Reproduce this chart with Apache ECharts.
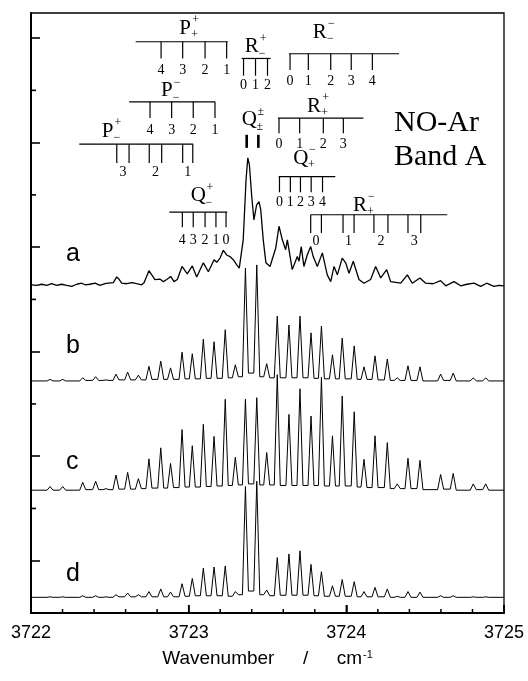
<!DOCTYPE html>
<html>
<head>
<meta charset="utf-8">
<script src="https://cdn.jsdelivr.net/npm/echarts@6/dist/echarts.min.js"></script>
<style>
  html, body { margin: 0; padding: 0; background: #fff; }
  #chart { width: 528px; height: 681px; }
</style>
</head>
<body>
<div id="chart"></div>
<script>
// ---------------------------------------------------------------
// NO-Ar, band A: measured spectrum (a) and three simulations (b-d)
// ---------------------------------------------------------------

// Measured trace a: [wavenumber / cm-1, signal above its baseline]
const EXP_A = [
  [3722.004, 0.01], [3722.036, 0.00], [3722.068, 0.02], [3722.100, 0.00], [3722.131, 0.03],
  [3722.163, 0.00], [3722.195, 0.02], [3722.226, 0.00], [3722.258, -0.02], [3722.290, 0.02],
  [3722.322, 0.04], [3722.342, 0.01], [3722.374, 0.02], [3722.406, 0.04], [3722.438, 0.00],
  [3722.469, 0.03], [3722.490, 0.04], [3722.522, 0.05], [3722.544, 0.16], [3722.560, 0.11],
  [3722.575, 0.04], [3722.607, 0.03], [3722.639, 0.05], [3722.670, 0.03], [3722.702, 0.01],
  [3722.717, 0.05], [3722.748, 0.28], [3722.766, 0.20], [3722.786, 0.11], [3722.818, 0.12],
  [3722.839, 0.07], [3722.861, 0.11], [3722.886, 0.17], [3722.907, 0.07], [3722.928, 0.11],
  [3722.958, 0.36], [3722.991, 0.22], [3723.023, 0.37], [3723.051, 0.16], [3723.093, 0.43],
  [3723.125, 0.26], [3723.161, 0.49], [3723.178, 0.44], [3723.199, 0.52], [3723.220, 0.67],
  [3723.241, 0.58], [3723.262, 0.55], [3723.283, 0.49], [3723.305, 0.39], [3723.321, 0.33],
  [3723.346, 0.87], [3723.364, 2.02], [3723.375, 2.44], [3723.385, 2.31], [3723.400, 1.70],
  [3723.414, 1.25], [3723.431, 1.54], [3723.446, 1.60], [3723.457, 1.45], [3723.473, 0.87],
  [3723.490, 0.43], [3723.516, 0.36], [3723.552, 0.71], [3723.573, 1.13], [3723.594, 0.87],
  [3723.615, 0.68], [3723.626, 0.87], [3723.657, 0.30], [3723.689, 0.55], [3723.700, 0.46],
  [3723.714, 0.74], [3723.731, 0.36], [3723.752, 0.58], [3723.774, 0.74], [3723.790, 0.55],
  [3723.816, 0.36], [3723.848, 0.62], [3723.879, 0.20], [3723.901, 0.07], [3723.922, 0.36],
  [3723.943, 0.20], [3723.974, 0.52], [3723.996, 0.43], [3724.017, 0.23], [3724.044, 0.46],
  [3724.080, 0.11], [3724.112, 0.04], [3724.154, 0.11], [3724.186, 0.36], [3724.218, 0.14],
  [3724.256, 0.30], [3724.281, 0.07], [3724.345, 0.04], [3724.387, 0.20], [3724.418, 0.04],
  [3724.467, 0.14], [3724.503, 0.04], [3724.550, 0.03], [3724.598, 0.09], [3724.630, -0.01],
  [3724.683, 0.07], [3724.725, -0.01], [3724.765, 0.02], [3724.810, 0.04], [3724.852, -0.02],
  [3724.890, 0.04], [3724.936, -0.02], [3724.968, 0.00], [3725.000, -0.01]
];

// Simulated traces: line centres (cm-1), peak heights above baseline,
// and the floor level before / between / after the lines (39 values)
const SIM_LINES = [
  3722.121, 3722.201, 3722.328, 3722.410, 3722.476, 3722.539, 3722.613, 3722.681, 3722.748, 3722.823,
  3722.885, 3722.958, 3723.023, 3723.093, 3723.161, 3723.232, 3723.296, 3723.360, 3723.432, 3723.495,
  3723.562, 3723.636, 3723.706, 3723.776, 3723.842, 3723.912, 3723.974, 3724.050, 3724.112, 3724.182,
  3724.260, 3724.323, 3724.391, 3724.467, 3724.598, 3724.678, 3724.805, 3724.884
];
const SIM_B_PEAK = [
  0.03, 0.03, 0.06, 0.08, 0.02, 0.13, 0.17, 0.11, 0.28, 0.38,
  0.25, 0.55, 0.52, 0.80, 0.75, 0.98, 0.31, 2.16, 2.22, 0.33,
  1.24, 1.07, 1.24, 0.92, 1.05, 0.50, 0.82, 0.67, 0.27, 0.48,
  0.42, 0.06, 0.29, 0.27, 0.13, 0.15, 0.06, 0.06
];
const SIM_B_FLOOR = [
  0, 0, 0, 0.01, 0.01, 0.01, 0.02, 0.02, 0.02, 0.03,
  0.03, 0.03, 0.04, 0.04, 0.05, 0.05, 0.06, 0.08, 0.15, 0.08,
  0.06, 0.06, 0.06, 0.06, 0.05, 0.04, 0.04, 0.04, 0.03, 0.03,
  0.02, 0.01, 0.01, 0.01, 0, 0.01, 0, 0, 0
];
const SIM_C_PEAK = [
  0.07, 0.07, 0.15, 0.17, 0.03, 0.29, 0.34, 0.22, 0.60, 0.81,
  0.51, 1.16, 0.85, 1.26, 1.03, 1.74, 0.63, 1.74, 1.77, 0.72,
  2.21, 1.45, 1.94, 1.42, 2.16, 1.04, 1.80, 1.50, 0.59, 1.04,
  0.91, 0.12, 0.61, 0.57, 0.30, 0.32, 0.12, 0.12
];
const SIM_C_FLOOR = [
  0, 0, 0, 0.01, 0.01, 0.01, 0.02, 0.02, 0.03, 0.04,
  0.04, 0.05, 0.06, 0.06, 0.07, 0.08, 0.09, 0.10, 0.12, 0.10,
  0.10, 0.09, 0.09, 0.09, 0.09, 0.08, 0.08, 0.08, 0.06, 0.05,
  0.05, 0.03, 0.03, 0.03, 0.01, 0.02, 0, 0.01, 0
];
const SIM_D_PEAK = [
  0.01, 0.01, 0.03, 0.03, 0.01, 0.05, 0.08, 0.05, 0.11, 0.16,
  0.10, 0.26, 0.36, 0.56, 0.58, 0.60, 0.11, 2.12, 2.22, 0.14,
  0.76, 0.83, 0.89, 0.63, 0.49, 0.22, 0.34, 0.30, 0.11, 0.19,
  0.16, 0.02, 0.11, 0.10, 0.03, 0.03, 0.01, 0.01
];
const SIM_D_FLOOR = [
  0, 0, 0, 0, 0, 0, 0.01, 0.01, 0.01, 0.01,
  0.01, 0.01, 0.02, 0.03, 0.03, 0.03, 0.02, 0.05, 0.12, 0.05,
  0.03, 0.04, 0.04, 0.04, 0.03, 0.02, 0.02, 0.02, 0.01, 0.01,
  0.01, 0, 0, 0, 0, 0, 0, 0, 0
];
const SIM_LINE_HALF_WIDTH = 0.019;   // cm-1, half base width of a simulated line

// Rotational assignments: line positions (cm-1) and their J labels
const P_PP_LINES = [3722.825, 3722.962, 3723.104, 3723.241];
const P_PP_J = ['4', '3', '2', '1'];
const P_MM_LINES = [3722.755, 3722.892, 3723.029, 3723.167];
const P_MM_J = ['4', '3', '2', '1'];
const P_PM_LINES = [[3722.544, 3722.622], [3722.750, 3722.829], [3722.962, 3723.026]];
const P_PM_J = ['3', '2', '1'];
const Q_PM_LINES = [3722.960, 3723.029, 3723.104, 3723.173, 3723.237];
const Q_PM_J = ['4', '3', '2', '1', '0'];
const R_PM_LINES = [3723.348, 3723.424, 3723.500];
const R_PM_J = ['0', '1', '2'];
const R_MM_LINES = [3723.643, 3723.759, 3723.901, 3724.031, 3724.165];
const R_MM_J = ['0', '1', '2', '3', '4'];
const R_PP_LINES = [3723.573, 3723.704, 3723.854, 3723.981];
const R_PP_J = ['0', '1', '2', '3'];
const Q_MP_LINES = [3723.576, 3723.645, 3723.709, 3723.777, 3723.849];
const Q_MP_J = ['0', '1', '2', '3', '4'];
const R_MP_LINES = [[3723.774, 3723.842], [3723.979, 3724.049], [3724.175, 3724.264], [3724.391, 3724.472]];
const R_MP_J = ['0', '1', '2', '3'];
const Q_HEAD_LINES = [3723.368, 3723.442];

const TRACE_NAMES = ['a', 'b', 'c', 'd'];

// Axis tick positions
const X_MIN = 3722;
const X_MAX = 3725;
const X_MAJOR_TICKS = [3722, 3723, 3724, 3725];
const X_MINOR_TICKS = [3722.2, 3722.4, 3722.6, 3722.8, 3723.2, 3723.4, 3723.6, 3723.8,
                       3724.2, 3724.4, 3724.6, 3724.8];
const Y_LONG_TICKS = [1, 3, 5, 7, 9, 11];
const Y_SHORT_TICKS = [2, 4, 6, 8, 10];

// ---------------- layout ----------------
const Y_MAX = 11.48;                       // plot height in intensity units
const BASELINE = { a: 6.27, b: 4.44, c: 2.35, d: 0.30 };  // vertical stacking offsets
const TRACE_LABEL_POS = [[3722.222, 6.87], [3722.222, 5.11], [3722.222, 2.88], [3722.222, 0.75]];

// each ladder: symbol position, bar [from, to, y], tick end y, J-label y
const LADDERS = [
  { lines: P_PP_LINES, j: P_PP_J, name: 'P', sup: '+', sub: '+', at: [3722.977, 11.19], bar: [3722.664, 3723.248, 10.93], tickTo: 10.61, jY: 10.39 },
  { lines: P_MM_LINES, j: P_MM_J, name: 'P', sup: '\u2212', sub: '\u2212', at: [3722.861, 9.99], bar: [3722.623, 3723.167, 9.78], tickTo: 9.47, jY: 9.24 },
  { lines: P_PM_LINES, j: P_PM_J, name: 'P', sup: '+', sub: '\u2212', at: [3722.485, 9.22], bar: [3722.306, 3723.029, 8.97], tickTo: 8.61, jY: 8.44 },
  { lines: Q_PM_LINES, j: Q_PM_J, name: 'Q', sup: '+', sub: '\u2212', at: [3723.061, 7.99], bar: [3722.877, 3723.245, 7.67], tickTo: 7.38, jY: 7.14 },
  { lines: R_PM_LINES, j: R_PM_J, name: 'R', sup: '+', sub: '\u2212', at: [3723.400, 10.83], bar: [3723.336, 3723.520, 10.61], tickTo: 10.28, jY: 10.10 },
  { lines: R_MM_LINES, j: R_MM_J, name: 'R', sup: '\u2212', sub: '\u2212', at: [3723.832, 11.11], bar: [3723.636, 3724.334, 10.70], tickTo: 10.39, jY: 10.17 },
  { lines: R_PP_LINES, j: R_PP_J, name: 'R', sup: '+', sub: '+', at: [3723.795, 9.70], bar: [3723.567, 3724.108, 9.47], tickTo: 9.18, jY: 8.96 },
  { lines: Q_MP_LINES, j: Q_MP_J, name: 'Q', sup: '\u2212', sub: '+', at: [3723.712, 8.70], bar: [3723.571, 3723.930, 8.35], tickTo: 8.05, jY: 7.85 },
  { lines: R_MP_LINES, j: R_MP_J, name: 'R', sup: '\u2212', sub: '+', at: [3724.086, 7.80], bar: [3723.774, 3724.640, 7.62], tickTo: 7.27, jY: 7.12 },
  { lines: Q_HEAD_LINES, j: null, name: 'Q', sup: '\u00b1', sub: '\u00b1', at: [3723.384, 9.44], bar: null, tickFrom: 9.15, tickTo: 8.90 }
];

const SERIF = '"Liberation Serif", "Times New Roman", serif';
const SANS = '"Liberation Sans", Arial, sans-serif';

// Each simulated line is drawn as a narrow spike standing on the local floor
function simTrace(peaks, floors, base) {
  const pts = [[X_MIN, base + floors[0]]];
  SIM_LINES.forEach((x, i) => {
    pts.push([x - SIM_LINE_HALF_WIDTH, base + floors[i]]);
    pts.push([x, base + peaks[i]]);
    pts.push([x + SIM_LINE_HALF_WIDTH, base + floors[i + 1]]);
  });
  pts.push([X_MAX, base + floors[floors.length - 1]]);
  return pts;
}

function traceSeries(name, data, width) {
  return {
    name: name, type: 'line', data: data, showSymbol: false, symbol: 'none',
    lineStyle: { color: '#000', width: width }, silent: true, z: 2
  };
}

function seg(p, q, w) {
  return { type: 'line', shape: { x1: p[0], y1: p[1], x2: q[0], y2: q[1] },
           style: { stroke: '#000', lineWidth: w, fill: null } };
}
function txt(s, p, size, family, align) {
  return { type: 'text', style: { text: s, x: p[0], y: p[1], fill: '#000',
           font: size + 'px ' + family, align: align || 'center', verticalAlign: 'middle' } };
}

function drawLadder(L, api) {
  const c = (x, y) => api.coord([x, y]);
  const kids = [];
  if (L.bar) {
    kids.push(seg(c(L.bar[0], L.bar[2]), c(L.bar[1], L.bar[2]), 1.2));
    L.lines.forEach((grp, i) => {
      const xs = Array.isArray(grp) ? grp : [grp];
      xs.forEach(x => kids.push(seg(c(x, L.bar[2]), c(x, L.tickTo), 1.2)));
      const mid = xs.reduce((s, v) => s + v, 0) / xs.length;
      kids.push(txt(L.j[i], c(mid, L.jY), 14, SERIF));
    });
  } else {
    L.lines.forEach(x => kids.push(seg(c(x, L.tickFrom), c(x, L.tickTo), 2.6)));
  }
  const p = c(L.at[0], L.at[1]);
  const half = L.name === 'P' ? 6.5 : 7.5;
  kids.push(txt(L.name, p, 21, SERIF));
  kids.push(txt(L.sup, [p[0] + half + 4, p[1] - 8], 12, SERIF));
  kids.push(txt(L.sub, [p[0] + half + 3, p[1] + 7], 12, SERIF));
  return { type: 'group', children: kids };
}

function drawTraceName(i, api) {
  return txt(TRACE_NAMES[i], api.coord(TRACE_LABEL_POS[i]), 25, SANS, 'left');
}

// Bottom axis line with inward major and minor ticks, plus the short left ticks
function drawAxisTicks(api) {
  const kids = [seg(api.coord([X_MIN, 0]), api.coord([X_MAX, 0]), 2)];
  X_MAJOR_TICKS.forEach(x => {
    const p = api.coord([x, 0]);
    kids.push(seg(p, [p[0], p[1] - 8], 1.5));
  });
  X_MINOR_TICKS.forEach(x => {
    const p = api.coord([x, 0]);
    kids.push(seg(p, [p[0], p[1] - 4], 1.5));
  });
  Y_SHORT_TICKS.forEach(y => {
    const p = api.coord([X_MIN, y]);
    kids.push(seg(p, [p[0] + 5, p[1]], 1.6));
  });
  return { type: 'group', children: kids };
}

// All annotation items drawn by one custom series
const ANNOTATIONS = [
  ...LADDERS.map(L => ({ at: L.at, draw: api => drawLadder(L, api) })),
  ...TRACE_LABEL_POS.map((pos, i) => ({ at: pos, draw: api => drawTraceName(i, api) })),
  { at: [3723.5, 5], draw: api => drawAxisTicks(api) }
];

const chart = echarts.init(document.getElementById('chart'), null, { renderer: 'canvas' });

chart.setOption({
  animation: false,
  backgroundColor: '#fff',
  grid: { left: 31, right: 24, top: 13, bottom: 68, show: true, borderColor: '#000', borderWidth: 1.3 },
  xAxis: {
    type: 'value', min: X_MIN, max: X_MAX, interval: 1, position: 'bottom',
    splitLine: { show: false },
    axisLine: { show: true, onZero: false, lineStyle: { color: '#000', width: 2 } },
    axisTick: { show: true, inside: true, length: 8, lineStyle: { color: '#000', width: 1.5 } },
    axisLabel: { color: '#000', fontSize: 18, fontFamily: SANS, margin: 11,
                 formatter: v => String(v) },
    name: 'Wavenumber\u2002\u2003/\u2002\u2003cm{sup|-1}', nameLocation: 'middle', nameGap: 36,
    nameTextStyle: { color: '#000', fontSize: 19, fontFamily: SANS,
                     rich: { sup: { fontSize: 11, fontFamily: SANS, color: '#000', verticalAlign: 'top', padding: [0, 0, 8, 1] } } }
  },
  yAxis: {
    type: 'value', min: 0, max: Y_MAX, position: 'left',
    axisLabel: { show: false }, splitLine: { show: false },
    axisLine: { show: true, onZero: false, lineStyle: { color: '#000', width: 2 } },
    axisTick: { show: true, inside: true, length: 9, customValues: Y_LONG_TICKS,
                lineStyle: { color: '#000', width: 1.6 } }
  },
  graphic: [
    { type: 'text', x: 394, y: 123, style: { text: 'NO-Ar', font: '30px ' + SERIF, fill: '#000', verticalAlign: 'middle' } },
    { type: 'text', x: 394, y: 157, style: { text: 'Band A', font: '30px ' + SERIF, fill: '#000', verticalAlign: 'middle' } }
  ],
  series: [
    traceSeries('a', EXP_A.map(([x, s]) => [x, BASELINE.a + s]), 1.3),
    traceSeries('b', simTrace(SIM_B_PEAK, SIM_B_FLOOR, BASELINE.b), 1.0),
    traceSeries('c', simTrace(SIM_C_PEAK, SIM_C_FLOOR, BASELINE.c), 1.0),
    traceSeries('d', simTrace(SIM_D_PEAK, SIM_D_FLOOR, BASELINE.d), 1.0),
    { type: 'custom', name: 'annotations', coordinateSystem: 'cartesian2d', silent: true, z: 3,
      clip: false, data: ANNOTATIONS.map(a => a.at),
      renderItem: (params, api) => ANNOTATIONS[params.dataIndex].draw(api) }
  ]
});
</script>
</body>
</html>
